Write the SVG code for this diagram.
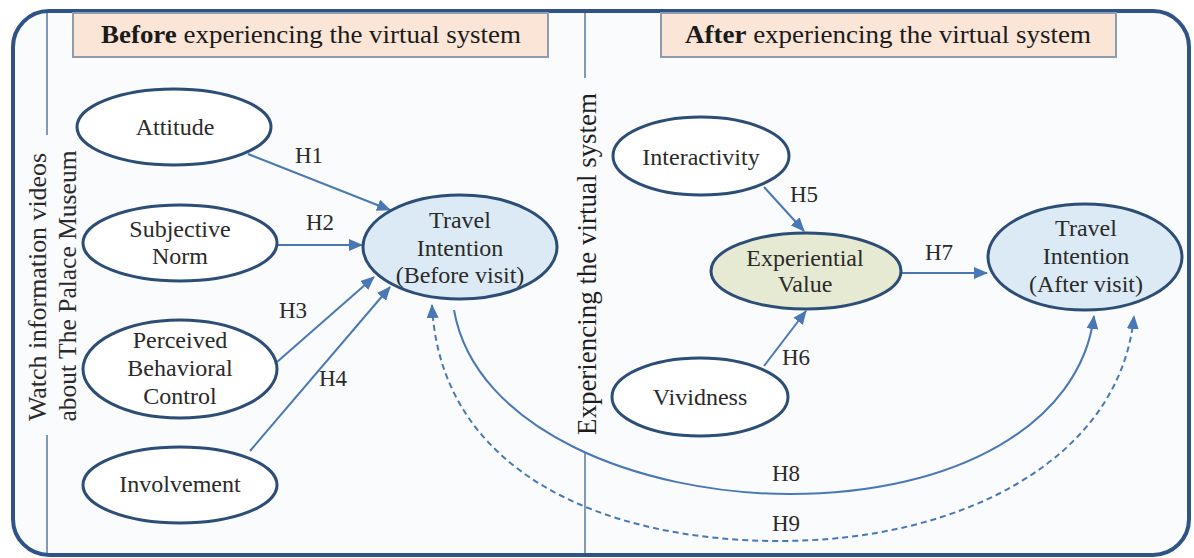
<svg xmlns="http://www.w3.org/2000/svg" width="1194" height="558" viewBox="0 0 1194 558">
<defs>
<style>
.node{fill:#ffffff;stroke:#2c4d76;stroke-width:3}
.blue{fill:#dceaf5}
.olive{fill:#e6ead2}
.t{font-family:"Liberation Serif","Times New Roman",serif;font-size:24px;fill:#2a2a2a;text-anchor:middle}
.lbl{font-family:"Liberation Serif","Times New Roman",serif;font-size:23px;fill:#2a2a2a;text-anchor:middle}
.hdr{font-family:"Liberation Serif","Times New Roman",serif;font-size:25px;fill:#1a1a1a;text-anchor:middle}
.vt{font-family:"Liberation Serif","Times New Roman",serif;font-size:25px;fill:#2a2a2a;text-anchor:middle}
.arr{fill:none;stroke:#4a78b5;stroke-width:2;marker-end:url(#ah)}
.dash{stroke-dasharray:6,4;marker-start:url(#ah)}
.box{fill:#fbe5d6;stroke:#8f9bb0;stroke-width:2}
.div{stroke:#5a78a0;stroke-width:1.5}
</style>
<marker id="ah" markerUnits="userSpaceOnUse" markerWidth="14" markerHeight="12" refX="13" refY="6" orient="auto-start-reverse" viewBox="0 0 14 12">
<path d="M0,0 L14,6 L0,12 z" fill="#4a78b5"/>
</marker>
</defs>
<rect x="0" y="0" width="1194" height="558" fill="#ffffff"/>
<rect id="frame" x="13" y="11" width="1176" height="544" rx="36" ry="36" fill="#f9fbfd" stroke="#2f5386" stroke-width="4"/>

<g id="dividers">
<line class="div" x1="47" y1="13" x2="47" y2="135"/>
<line class="div" x1="47" y1="435" x2="47" y2="553"/>
<line class="div" x1="585" y1="13" x2="585" y2="78"/>
<line class="div" x1="585" y1="453" x2="585" y2="553"/>
</g>

<g id="header-before">
<rect class="box" x="73" y="13" width="475" height="44"/>
<text class="hdr" x="311" y="43" textLength="420" lengthAdjust="spacingAndGlyphs"><tspan font-weight="bold">Before</tspan> experiencing the virtual system</text>
</g>
<g id="header-after">
<rect class="box" x="661" y="13" width="455" height="44"/>
<text class="hdr" x="888" y="43" textLength="406" lengthAdjust="spacingAndGlyphs"><tspan font-weight="bold">After</tspan> experiencing the virtual system</text>
</g>

<g id="side-labels">
<text class="vt" transform="translate(46,287) rotate(-90)" textLength="268" lengthAdjust="spacingAndGlyphs">Watch information videos</text>
<text class="vt" transform="translate(76,286) rotate(-90)" textLength="271" lengthAdjust="spacingAndGlyphs">about The Palace Museum</text>
<text class="vt" transform="translate(596,264) rotate(-90)" textLength="342" lengthAdjust="spacingAndGlyphs" style="font-size:27px;fill:#1e1e1e">Experiencing the virtual system</text>
</g>

<g id="connectors">
<line class="arr" x1="248" y1="154" x2="390" y2="210"/>
<line class="arr" x1="278" y1="245" x2="362" y2="245"/>
<line class="arr" x1="277" y1="362" x2="374" y2="277"/>
<line class="arr" x1="250" y1="451" x2="390" y2="287"/>
<line class="arr" x1="764" y1="187" x2="804" y2="231"/>
<line class="arr" x1="764" y1="366" x2="806" y2="311"/>
<line class="arr" x1="901" y1="273" x2="987" y2="273"/>
<path class="arr" d="M454,310 C475,430 640,494 790,494 C955,494 1080,425 1094,316"/>
<path class="arr dash" d="M432,305 C440,470 600,541 780,541 C960,541 1120,460 1134,316"/>
<text class="lbl" x="309" y="163">H1</text>
<text class="lbl" x="320" y="230">H2</text>
<text class="lbl" x="293" y="318">H3</text>
<text class="lbl" x="333" y="386">H4</text>
<text class="lbl" x="804" y="202">H5</text>
<text class="lbl" x="796" y="365">H6</text>
<text class="lbl" x="939" y="260">H7</text>
<text class="lbl" x="786" y="481">H8</text>
<text class="lbl" x="786" y="531">H9</text>
</g>

<g id="attitude">
<ellipse class="node" cx="174" cy="127" rx="97" ry="38"/>
<text class="t" x="175" y="135">Attitude</text>
</g>
<g id="subjective-norm">
<ellipse class="node" cx="180" cy="243" rx="97" ry="38"/>
<text class="t" x="180" y="237">Subjective</text>
<text class="t" x="180" y="264">Norm</text>
</g>
<g id="pbc">
<ellipse class="node" cx="180" cy="369" rx="97" ry="49"/>
<text class="t" x="180" y="348">Perceived</text>
<text class="t" x="180" y="376">Behavioral</text>
<text class="t" x="180" y="404">Control</text>
</g>
<g id="involvement">
<ellipse class="node" cx="180" cy="485" rx="97" ry="38"/>
<text class="t" x="180" y="492">Involvement</text>
</g>
<g id="ti-before">
<ellipse class="node blue" cx="460" cy="247" rx="97" ry="52"/>
<text class="t" x="460" y="228">Travel</text>
<text class="t" x="460" y="256">Intention</text>
<text class="t" x="460" y="283">(Before visit)</text>
</g>
<g id="interactivity">
<ellipse class="node" cx="701" cy="156" rx="88" ry="39"/>
<text class="t" x="701" y="165">Interactivity</text>
</g>
<g id="experiential-value">
<ellipse class="node olive" cx="806" cy="271" rx="95" ry="38"/>
<text class="t" x="805" y="266">Experiential</text>
<text class="t" x="805" y="292">Value</text>
</g>
<g id="vividness">
<ellipse class="node" cx="700" cy="397" rx="88" ry="39"/>
<text class="t" x="700" y="405">Vividness</text>
</g>
<g id="ti-after">
<ellipse class="node blue" cx="1085" cy="257" rx="97" ry="53"/>
<text class="t" x="1086" y="236">Travel</text>
<text class="t" x="1086" y="264">Intention</text>
<text class="t" x="1086" y="292">(After visit)</text>
</g>
</svg>
